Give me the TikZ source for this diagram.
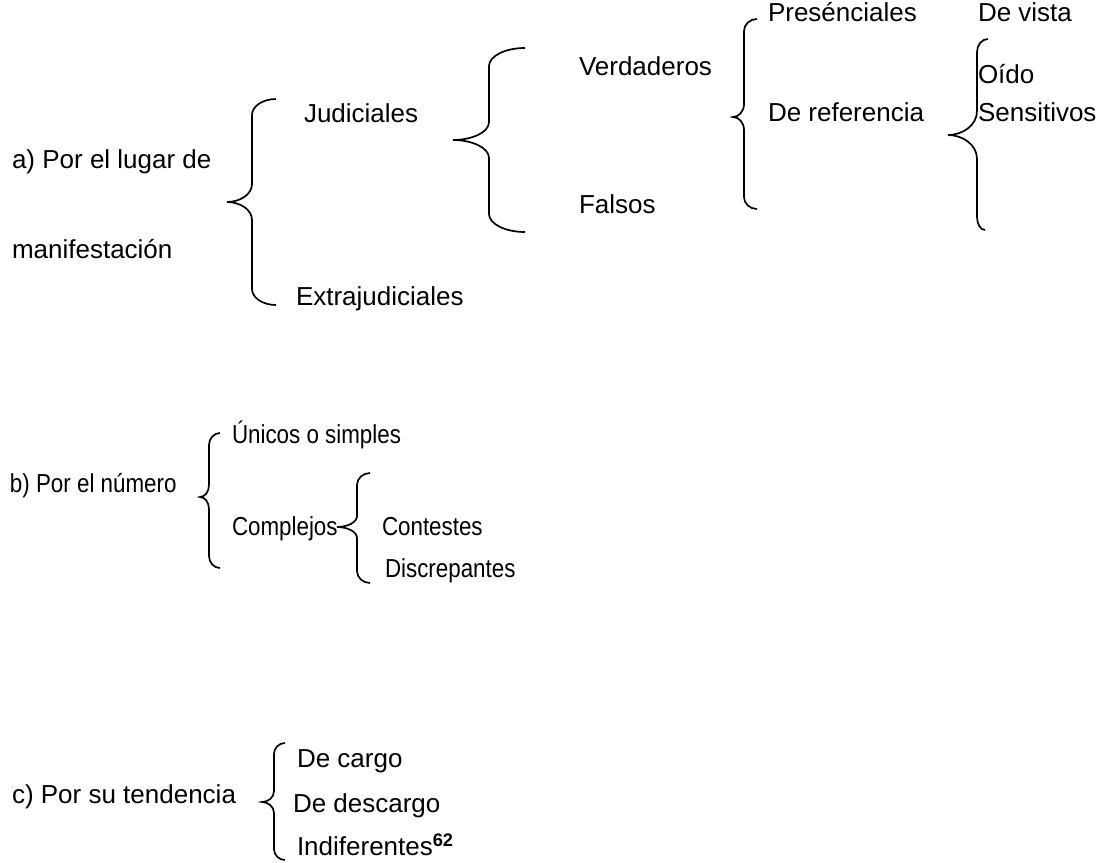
\documentclass[tikz,border=0pt]{standalone}
\usepackage{graphicx}
\usepackage{fontspec}
\setmainfont{Liberation Sans}
% #1 top end x, #2 vertical x, #3 tip x, #4 top y, #5 tip y, #6 bottom y, #7 end radius, #8 tip radius, #9 bottom end x
\newcommand\bracepath[9]{%
  \draw[bracestyle] (#1,#4) .. controls (#2+0.45*#1-0.45*#2,#4) and (#2,#4+0.45*#7) .. (#2,#4+#7) -- (#2,#5-#8)
    .. controls (#2,#5-0.4*#8) and (#3+0.5*#2-0.5*#3,#5) .. (#3,#5)
    .. controls (#3+0.5*#2-0.5*#3,#5) and (#2,#5+0.4*#8) .. (#2,#5+#8)
    -- (#2,#6-#7) .. controls (#2,#6-0.45*#7) and (#2+0.45*#9-0.45*#2,#6) .. (#9,#6);}
\newcommand\narrow[1]{\scalebox{0.86}[1]{#1}}
\begin{document}
\begin{tikzpicture}[x=0.5pt,y=-0.5pt,
  lbl/.style={anchor=base west,inner sep=0pt,outer sep=0pt,font=\fontsize{13}{15}\selectfont},
  bracestyle/.style={line width=0.85pt,black}]
\useasboundingbox (0,0) rectangle (1107,862);
% section a
\node[lbl] (a1) at (12,168) {a) Por el lugar de};
\node[lbl] (a2) at (12,258) {manifestación};
\bracepath{276}{252}{227}{99}{202}{305}{16}{18}{276}
\node[lbl] (jud) at (304,122) {Judiciales};
\node[lbl] (ext) at (296,305) {Extrajudiciales};
\bracepath{525}{489}{453}{48}{140}{232}{18}{18}{525}
\node[lbl] (ver) at (579,75) {Verdaderos};
\node[lbl] (fal) at (579,213) {Falsos};
\bracepath{757}{744}{733}{19}{117}{209}{12}{13}{757}
\node[lbl] (pre) at (768,21) {Presénciales};
\node[lbl] (ref) at (768,121) {De referencia};
\bracepath{988}{977}{948}{39}{135}{230}{13}{24}{985}
\node[lbl] (vis) at (978,21) {De vista};
\node[lbl] (oid) at (978,83) {Oído};
\node[lbl] (sen) at (978,121) {Sensitivos};
% section b
\node[lbl] (b1) at (10,492) {\narrow{b) Por el número}};
\bracepath{220}{209}{200}{433}{497}{568}{12}{12}{220}
\node[lbl] (uni) at (232,443) {\narrow{Únicos o simples}};
\node[lbl] (com) at (232,535) {\narrow{Complejos}};
\bracepath{370}{357}{337}{473}{527}{583}{12}{11}{370}
\node[lbl] (con) at (382,535) {\narrow{Contestes}};
\node[lbl] (dis) at (385,577) {\narrow{Discrepantes}};
% section c
\node[lbl] (c1) at (12,803) {c) Por su tendencia};
\bracepath{285}{274}{262}{743}{802}{860}{11}{11}{285}
\node[lbl] (car) at (297,767) {De cargo};
\node[lbl] (des) at (293,812) {De descargo};
\node[lbl] (ind) at (297,855) {Indiferentes\textsuperscript{\textbf{62}}};
\end{tikzpicture}
\end{document}
